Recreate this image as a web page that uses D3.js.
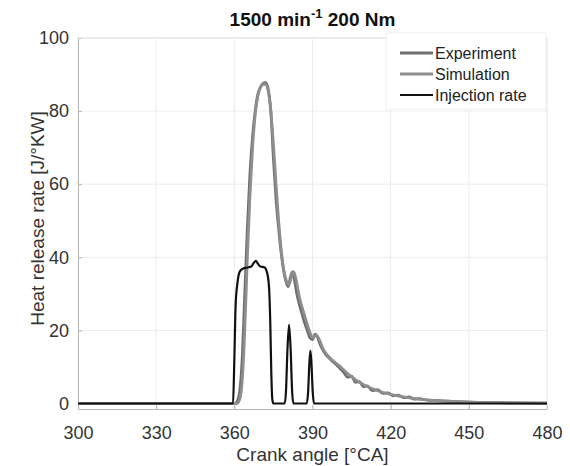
<!DOCTYPE html>
<html>
<head>
<meta charset="utf-8">
<script src="https://cdn.jsdelivr.net/npm/d3@7"></script>
<style>
  body { margin: 0; background: #fff; }
  svg { font-family: "Liberation Sans", Arial, sans-serif; }
</style>
</head>
<body>
<svg id="chart" width="570" height="466"></svg>
<script>
// crank angle [°CA] / heat release rate [J/°KW]
const expAngle = [300, 355, 360, 361, 362, 363, 364, 365, 366, 367, 368, 369, 370, 371, 372, 373, 374, 375, 376, 377, 378, 379, 380, 380.7, 381.5, 382.3, 383, 384, 385, 386, 387, 388, 389, 390, 391, 392, 393, 395, 397, 400, 402, 403.5, 405, 406.5, 408, 409.5, 411, 413, 415, 417, 419, 421, 423, 425, 427, 429, 431, 434, 438, 445, 455, 465, 480];
const expHRR   = [0, 0, 0, 0.5, 3, 12, 30, 48, 63, 73, 80, 84.5, 86.5, 87.5, 87.8, 86, 80, 67, 56, 48, 41, 36, 33, 32, 34.5, 36, 34, 30, 27, 24.5, 22, 20, 18, 17.5, 19, 18, 16, 13.5, 12, 10, 8.5, 7.2, 7.5, 5.8, 6, 4.6, 4.8, 3.5, 3.8, 2.8, 2.9, 2.1, 2.3, 1.6, 1.8, 1.2, 1.3, 0.9, 0.8, 0.5, 0.3, 0.2, 0.1];

const simAngle = [300, 355, 361, 362, 363, 364, 365, 366, 367, 368, 369, 370, 371, 372, 373, 374, 375, 376, 377, 378, 379, 380, 381, 382, 382.8, 383.5, 385, 387, 389, 390, 391.3, 392.3, 394, 396, 400, 405, 410, 415, 420, 425, 430, 440, 450, 465, 480];
const simHRR   = [0, 0, 0, 1, 6, 20, 40, 57, 70, 79, 84, 86.5, 87.3, 87.3, 85.5, 80, 71, 60, 50, 42, 36.5, 33.5, 32.5, 35, 36, 34.5, 29, 24, 19.5, 18, 18.8, 18, 15, 13, 10.5, 7.3, 5, 3.5, 2.5, 1.8, 1.3, 0.7, 0.4, 0.2, 0.1];

const injAngle = [300, 359.5, 360, 360.5, 361.2, 362, 363, 365, 366.5, 367.5, 368.3, 369, 370, 371.5, 372.5, 373.3, 373.8, 374.2, 374.6, 375, 379.3, 379.8, 380.4, 381, 381.6, 382.2, 382.7, 387.8, 388.3, 388.8, 389.2, 389.6, 390.1, 390.6, 480];
const injRate  = [0, 0, 12, 27, 33, 36, 36.8, 37.2, 37.5, 38.5, 39, 38.3, 37.5, 37.3, 36, 32, 22, 8, 1, 0, 0, 3, 15, 21.5, 15, 3, 0, 0, 3, 11, 14.5, 11, 3, 0, 0];

const xTicks = [300, 330, 360, 390, 420, 450, 480];
const yTicks = [0, 20, 40, 60, 80, 100];

const series = [
  { name: "Experiment", color: "#6e6e6e", width: 2.8, angle: expAngle, value: expHRR },
  { name: "Simulation", color: "#8e8e8e", width: 2.8, angle: simAngle, value: simHRR },
  { name: "Injection rate", color: "#111", width: 2.2, angle: injAngle, value: injRate }
];

const margin = { top: 38, right: 23, bottom: 57, left: 78 };
const width = 570 - margin.left - margin.right;
const height = 466 - margin.top - margin.bottom;

const svg = d3.select("#chart");
const g = svg.append("g").attr("transform", `translate(${margin.left},${margin.top})`);

const x = d3.scaleLinear().domain([300, 480]).range([0, width]);
const y = d3.scaleLinear().domain([-1.5, 100]).range([height, 0]);

// grid
g.append("g").selectAll("line").data(xTicks.slice(1, -1)).join("line")
  .attr("x1", d => x(d)).attr("x2", d => x(d)).attr("y1", 0).attr("y2", height)
  .attr("stroke", "#ececec").attr("stroke-width", 1);
g.append("g").selectAll("line").data(yTicks.slice(1)).join("line")
  .attr("x1", 0).attr("x2", width).attr("y1", d => y(d)).attr("y2", d => y(d))
  .attr("stroke", "#ececec").attr("stroke-width", 1);

// axes
const xAxis = g.append("g").attr("transform", `translate(0,${height})`)
  .call(d3.axisBottom(x).tickValues(xTicks).tickSizeInner(-4).tickSizeOuter(0).tickPadding(17));
const yAxis = g.append("g")
  .call(d3.axisLeft(y).tickValues(yTicks).tickSizeInner(-4).tickSizeOuter(0).tickPadding(9));
[xAxis, yAxis].forEach(a => {
  a.select(".domain").attr("stroke", "#b5b5b5");
  a.selectAll("line").attr("stroke", "#b5b5b5");
  a.selectAll("text").attr("fill", "#333").attr("font-size", "18px")
    .attr("font-family", "Liberation Sans, Arial, sans-serif");
});
g.append("line").attr("x1", width).attr("x2", width).attr("y1", 0).attr("y2", height)
  .attr("stroke", "#e2e2e2");
g.append("line").attr("x1", 0).attr("x2", width).attr("y1", 0).attr("y2", 0)
  .attr("stroke", "#e2e2e2");

// lines
const line = d3.line().curve(d3.curveMonotoneX)
  .x(d => x(d[0])).y(d => y(d[1]));
g.append("g").selectAll("path").data(series).join("path")
  .attr("fill", "none")
  .attr("stroke", d => d.color)
  .attr("stroke-width", d => d.width)
  .attr("stroke-linejoin", "round")
  .attr("d", d => line(d.angle.map((a, i) => [a, d.value[i]])));

// legend
const lg = svg.append("g").attr("transform", "translate(386,33)");
lg.append("rect").attr("width", 160).attr("height", 76)
  .attr("fill", "#fff").attr("stroke", "#f0f0f0");
series.forEach((s, i) => {
  const row = lg.append("g").attr("transform", `translate(0,${20 + i * 21})`);
  row.append("line").attr("x1", 14).attr("x2", 47).attr("y1", 0).attr("y2", 0)
    .attr("stroke", s.color).attr("stroke-width", s.width);
  row.append("text").attr("x", 49).attr("y", 6).attr("font-size", "16px")
    .attr("fill", "#222").text(s.name);
});

// title
const title = svg.append("text").attr("x", margin.left + width / 2).attr("y", 26)
  .attr("text-anchor", "middle").attr("font-size", "19px").attr("font-weight", "bold")
  .attr("fill", "#111");
title.append("tspan").text("1500 min");
title.append("tspan").attr("dy", -8).attr("font-size", "13px").text("-1");
title.append("tspan").attr("dy", 8).text(" 200 Nm");

// axis titles
svg.append("text").attr("x", margin.left + width / 2).attr("y", 461)
  .attr("text-anchor", "middle").attr("font-size", "19px").attr("fill", "#333")
  .text("Crank angle [°CA]");
svg.append("text").attr("transform", `translate(44,${margin.top + height / 2 - 5}) rotate(-90)`)
  .attr("text-anchor", "middle").attr("font-size", "19px").attr("fill", "#333")
  .text("Heat release rate [J/°KW]");
</script>
</body>
</html>
